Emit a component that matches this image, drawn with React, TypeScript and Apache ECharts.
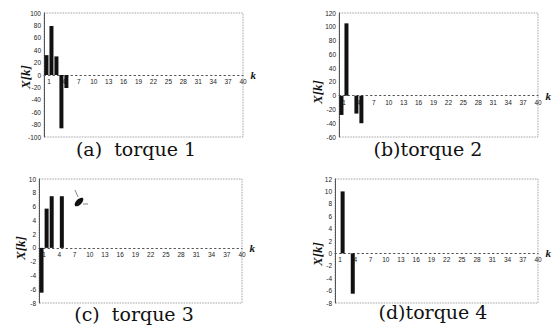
import React, { useEffect, useRef } from "react";
import * as echarts from "echarts";

// bar index k (bars drawn in the interval [k-1, k])
const kIndex = [1, 2, 3, 4, 5];
const xTickValues = [1, 4, 7, 10, 13, 16, 19, 22, 25, 28, 31, 34, 37, 40];

const valuesA = [32, 79, 30, -86, -21];
const valuesB = [-28, 105, 0, -26, -40];
const valuesC = [-6.5, 5.7, 7.5, 0, 7.5];
const valuesD = [0, 10, 0, -6.5, 0];

const yMinA = -100, yMaxA = 100, yStepA = 20;
const yMinB = -60, yMaxB = 120, yStepB = 20;
const yMinC = -8, yMaxC = 10, yStepC = 2;
const yMinD = -8, yMaxD = 12, yStepD = 2;

const titles = ["(a)  torque 1", "(b)torque 2", "(c)  torque 3", "(d)torque 4"];

const panels = [
  { values: valuesA, min: yMinA, max: yMaxA, step: yStepA, grid: { left: 44, top: 13, width: 199, height: 124 }, title: [136, 149], ylab: [25, 77] },
  { values: valuesB, min: yMinB, max: yMaxB, step: yStepB, grid: { left: 339, top: 13, width: 202, height: 124 }, title: [428, 149], ylab: [317, 92] },
  { values: valuesC, min: yMinC, max: yMaxC, step: yStepC, grid: { left: 39, top: 179, width: 203, height: 124 }, title: [134, 314], ylab: [20, 248] },
  { values: valuesD, min: yMinD, max: yMaxD, step: yStepD, grid: { left: 335, top: 179, width: 204, height: 124 }, title: [433, 312], ylab: [317, 254] },
];

export default function App() {
  const ref = useRef<HTMLDivElement>(null);
  useEffect(() => {
    if (!ref.current) return;
    const chart = echarts.init(ref.current, undefined, { renderer: "svg" });
    const grid: any[] = [];
    const xAxis: any[] = [];
    const yAxis: any[] = [];
    const series: any[] = [];
    const graphic: any[] = [];
    panels.forEach((p, i) => {
      const zeroFromBottom = (p.grid.height * (0 - p.min)) / (p.max - p.min);
      grid.push({
        ...p.grid,
        show: true,
        borderColor: "#777",
        borderWidth: 0.8,
        borderType: "dotted",
        backgroundColor: "transparent",
      });
      xAxis.push({
        type: "value",
        gridIndex: i,
        min: 0,
        max: 40,
        position: "bottom",
        offset: -zeroFromBottom,
        name: "k",
        nameLocation: "end",
        nameGap: 3,
        nameTextStyle: { fontFamily: "Liberation Serif", fontStyle: "italic", fontWeight: "bold", fontSize: 11, color: "#111" },
        axisLine: { onZero: false, lineStyle: { type: [1.5, 3], color: "#555", width: 1 } },
        axisTick: { show: false },
        splitLine: { show: false },
        axisLabel: {
          customValues: xTickValues,
          fontSize: 6.5,
          fontFamily: "Liberation Sans",
          color: "#222",
          margin: 3,
        },
      });
      yAxis.push({
        type: "value",
        gridIndex: i,
        min: p.min,
        max: p.max,
        interval: p.step,
        axisLine: { show: true, lineStyle: { color: "#555", width: 1 } },
        axisTick: { show: false },
        splitLine: { show: false },
        axisLabel: { fontSize: 6.5, fontFamily: "Liberation Sans", color: "#222", margin: 3 },
      });
      series.push({
        type: "bar",
        xAxisIndex: i,
        yAxisIndex: i,
        barWidth: 4,
        itemStyle: { color: "#111" },
        data: kIndex.map((k, j) => [k - 0.5, p.values[j]]),
        z: 5,
      });
      graphic.push({
        type: "text",
        x: p.title[0],
        y: p.title[1],
        style: {
          text: titles[i],
          fontFamily: "DejaVu Serif",
          fontSize: 19,
          fill: "#111",
          textAlign: "center",
          textVerticalAlign: "middle",
        },
      });
      graphic.push({
        type: "text",
        x: p.ylab[0],
        y: p.ylab[1],
        rotation: Math.PI / 2,
        style: {
          text: "X[k]",
          fontFamily: "Liberation Serif",
          fontStyle: "italic",
          fontWeight: "bold",
          fontSize: 13,
          fill: "#111",
          textAlign: "center",
          textVerticalAlign: "middle",
        },
      });
    });
    // scan artifact in panel (c)
    graphic.push({
      type: "ellipse",
      x: 79,
      y: 202,
      rotation: Math.PI / 4,
      shape: { cx: 0, cy: 0, rx: 5.5, ry: 2.8 },
      style: { fill: "#111" },
    });
    graphic.push({ type: "line", shape: { x1: 78, y1: 197, x2: 75, y2: 190 }, style: { stroke: "#333", lineWidth: 0.6 } });
    graphic.push({ type: "line", shape: { x1: 83, y1: 204, x2: 88, y2: 204 }, style: { stroke: "#333", lineWidth: 0.6 } });

    chart.setOption({
      animation: false,
      backgroundColor: "#fff",
      grid,
      xAxis,
      yAxis,
      series,
      graphic,
    });
    return () => chart.dispose();
  }, []);
  return (
    <div
      ref={ref}
      style={{ position: "fixed", left: 0, top: 0, width: 552, height: 332 }}
    />
  );
}
